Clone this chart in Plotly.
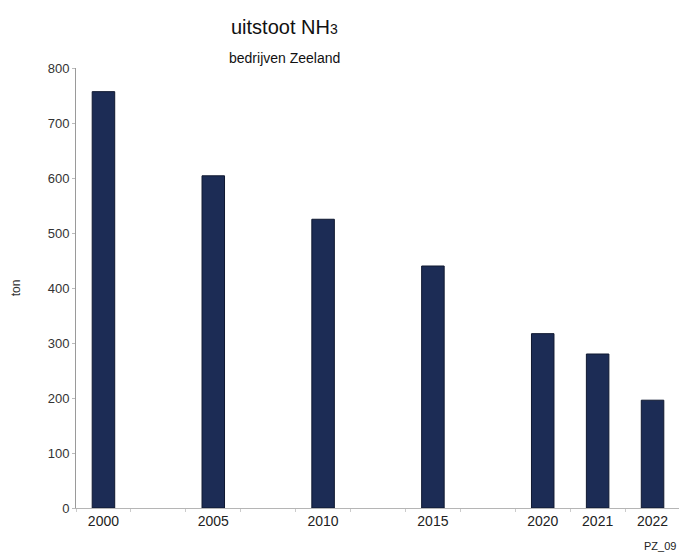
import plotly.graph_objects as go

years = ["2000", "2005", "2010", "2015", "2020", "2021", "2022"]
values = [757, 604, 525, 440, 317, 280, 196]
# category slots (blank slots keep the gaps between 5-year steps)
slots = ["2000", " ", "2005", "  ", "2010", "   ", "2015", "    ", "2020", "2021", "2022"]
y_ticks = [0, 100, 200, 300, 400, 500, 600, 700, 800]

FONT = "Arial, Liberation Sans, sans-serif"

fig = go.Figure(go.Bar(
    x=years, y=values,
    marker=dict(color="#1c2c55", line=dict(color="#0f1830", width=1)),
))

# the page body adds an 8px offset, so the figure is sized 8px smaller
fig.update_layout(
    width=679, height=545,
    margin=dict(l=68, r=7, t=60, b=45),
    paper_bgcolor="white", plot_bgcolor="white",
    bargap=0.59,
    showlegend=False,
    font=dict(family=FONT, color="#333333"),
    xaxis=dict(
        type="category", categoryorder="array", categoryarray=slots,
        showline=True, linecolor="#b5b5b5", linewidth=1,
        ticks="outside", tickson="boundaries", ticklen=3, tickcolor="#cccccc",
        tickfont=dict(size=14, color="#222222"),
        showgrid=False, zeroline=False,
    ),
    yaxis=dict(
        range=[0, 800], tickvals=y_ticks,
        showline=True, linecolor="#9a9a9a", linewidth=1,
        ticks="outside", ticklen=3, tickcolor="#bbbbbb",
        tickfont=dict(size=13, color="#333333"),
        showgrid=False, zeroline=False,
        title=dict(text="ton", font=dict(size=12, color="#333333"), standoff=24),
    ),
    annotations=[
        dict(text="uitstoot NH<span style='font-size:14px'>3</span>", xref="paper", yref="paper",
             x=0.346, y=1.093, showarrow=False, xanchor="center", yanchor="middle",
             font=dict(size=20, color="#111111", family=FONT)),
        dict(text="bedrijven Zeeland", xref="paper", yref="paper",
             x=0.346, y=1.023, showarrow=False, xanchor="center", yanchor="middle",
             font=dict(size=14, color="#111111", family=FONT)),
        dict(text="PZ_09", xref="paper", yref="paper",
             x=0.996, y=-0.087, showarrow=False, xanchor="right", yanchor="middle",
             font=dict(size=11, color="#222222", family=FONT)),
    ],
)

fig.write_html("out.html")
